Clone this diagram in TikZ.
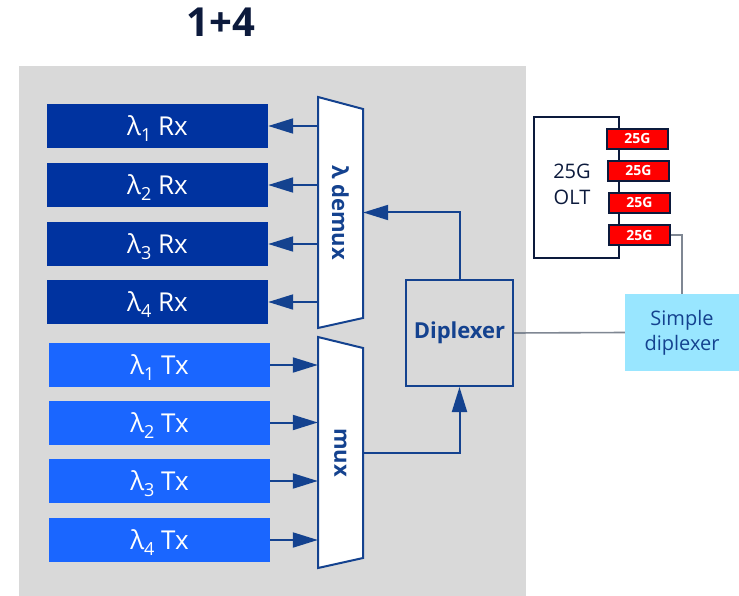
\documentclass[tikz,border=0pt]{standalone}
\usepackage{fontspec}
\setmainfont{Open Sans}
\usetikzlibrary{arrows.meta}
\definecolor{rxblue}{HTML}{0033A0}
\definecolor{txblue}{HTML}{1A66FF}
\definecolor{lineblue}{HTML}{14428F}
\definecolor{bggray}{HTML}{D9D9D9}
\definecolor{navy}{HTML}{0C1A3C}
\definecolor{cyanbox}{HTML}{99E6FF}
\definecolor{portred}{HTML}{FF0000}
\definecolor{wire}{HTML}{7F8793}
\newcommand\lsub[1]{λ\raisebox{-0.22em}{\fontsize{18}{18}\selectfont #1}}
\begin{document}
\begin{tikzpicture}[x=1pt,y=-1pt,
 chan/.style={minimum width=221pt,minimum height=44pt,inner sep=0pt,text depth=0pt,text=white,font=\fontsize{26}{28}\selectfont},
 rxbox/.style={chan,fill=rxblue},
 txbox/.style={chan,fill=txblue},
 arr/.style={draw=lineblue,line width=2pt,-{Triangle[length=25pt,width=15pt]}},
 trap/.style={draw=lineblue,line width=2pt,fill=white,line join=miter},
 rotlabel/.style={rotate=-90,text=lineblue,font=\fontsize{22}{24}\bfseries\selectfont},
 port/.style={draw=navy,line width=1.2pt,fill=portred,minimum width=61pt,minimum height=20pt,inner sep=0pt,text=white,font=\fontsize{14}{14}\bfseries\selectfont},
 wireline/.style={draw=wire,line width=1.6pt}
]
\useasboundingbox (0,0) rectangle (739,596);
\fill[white] (0,0) rectangle (739,596);
\fill[bggray] (19,66) rectangle (526,596);
\node[text=navy,font=\fontsize{40}{44}\bfseries\selectfont] (title) at (221,22) {1+4};

% Rx boxes
\node[rxbox] (rx1) at (157.5,126) {\lsub{1} Rx};
\node[rxbox] (rx2) at (157.5,185) {\lsub{2} Rx};
\node[rxbox] (rx3) at (157.5,244) {\lsub{3} Rx};
\node[rxbox] (rx4) at (157.5,302) {\lsub{4} Rx};
% Tx boxes
\node[txbox] (tx1) at (159.5,365) {\lsub{1} Tx};
\node[txbox] (tx2) at (159.5,422.5) {\lsub{2} Tx};
\node[txbox] (tx3) at (159.5,481) {\lsub{3} Tx};
\node[txbox] (tx4) at (159.5,540) {\lsub{4} Tx};

% demux and mux trapezoids
\draw[trap] (318,97) -- (363,109) -- (363,318) -- (318,328) -- cycle;
\node[minimum width=45pt,minimum height=231pt,inner sep=0pt] (demux) at (340.5,212.5) {};
\node[rotlabel] at (demux.center) {λ demux};
\draw[trap] (318,337) -- (363,348) -- (363,558) -- (318,568) -- cycle;
\node[minimum width=45pt,minimum height=231pt,inner sep=0pt] (mux) at (340.5,452.5) {};
\node[rotlabel] at (mux.center) {mux};

% diplexer
\node[draw=lineblue,line width=2pt,minimum width=107pt,minimum height=106pt,inner sep=0pt,text=lineblue,font=\fontsize{22}{24}\bfseries\selectfont] (dip) at (459.5,333) {Diplexer};

% arrows
\foreach \i in {1,2,3,4}{
  \draw[arr] (demux.west |- rx\i.east) -- (rx\i.east);
  \draw[arr] (tx\i.east) -- (mux.west |- tx\i.east);
}
\draw[arr] (dip.north) |- (demux.east);
\draw[arr] (mux.east) -| (dip.south);

% OLT
\node[draw=navy,line width=2pt,minimum width=85pt,minimum height=141pt,inner sep=0pt] (olt) at (576.5,187.5) {};
\node[text=navy,align=center,font=\fontsize{20}{26}\selectfont] (oltlabel) at (572,184) {25G\\OLT};
\node[port] (p1) at (637.5,139) {25G};
\node[port] (p2) at (638.5,171) {25G};
\node[port] (p3) at (639.5,203) {25G};
\node[port] (p4) at (639.5,235) {25G};

% simple diplexer
\node[fill=cyanbox,minimum width=114pt,minimum height=77pt,inner sep=0pt,text=lineblue,align=center,font=\fontsize{20}{25}\selectfont] (sd) at (682,332.5) {Simple\\diplexer};

\draw[wireline] (dip.east) -- (sd.west);
\draw[wireline] (p4.east) -| (sd.north);
\end{tikzpicture}
\end{document}
